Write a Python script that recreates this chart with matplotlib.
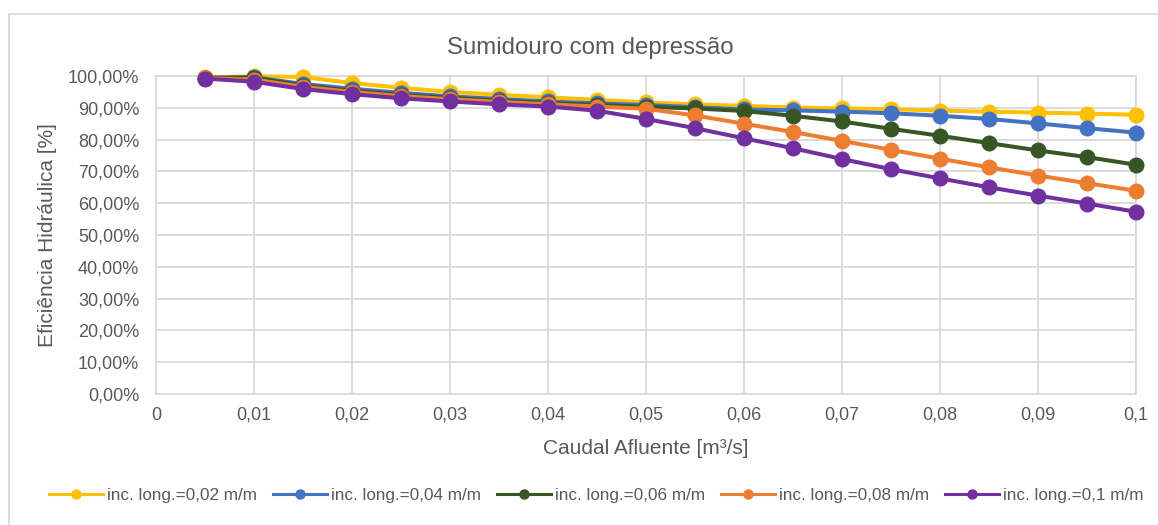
import matplotlib
matplotlib.use("Agg")
import matplotlib.pyplot as plt
from matplotlib.lines import Line2D
from matplotlib.patches import Rectangle

plt.rcParams['font.family'] = ['Liberation Sans', 'DejaVu Sans']

# caudal afluente [m3/s]
caudal = [0.005, 0.01, 0.015, 0.02, 0.025, 0.03, 0.035, 0.04, 0.045, 0.05,
          0.055, 0.06, 0.065, 0.07, 0.075, 0.08, 0.085, 0.09, 0.095, 0.1]

# eficiencia hidraulica [%] para cada inclinacao longitudinal
ef_002 = [99.6, 99.9, 99.7, 97.8, 96.3, 95.0, 94.1, 93.3, 92.5, 91.7,
          91.1, 90.6, 90.1, 89.8, 89.6, 89.1, 88.8, 88.5, 88.2, 87.8]
ef_004 = [99.5, 99.6, 97.5, 96.0, 94.7, 93.6, 92.8, 92.0, 91.4, 90.9,
          90.2, 89.5, 89.2, 88.8, 88.3, 87.5, 86.5, 85.1, 83.6, 82.2]
ef_006 = [99.4, 99.5, 97.0, 95.4, 94.1, 93.1, 92.3, 91.5, 90.9, 90.3,
          89.8, 89.0, 87.5, 85.7, 83.4, 81.2, 78.9, 76.6, 74.5, 72.1]
ef_008 = [99.3, 98.9, 96.6, 95.0, 93.7, 92.7, 91.9, 91.1, 90.4, 89.7,
          87.6, 85.0, 82.4, 79.6, 76.8, 74.0, 71.3, 68.7, 66.3, 63.9]
ef_010 = [99.2, 98.2, 95.9, 94.3, 93.0, 92.0, 91.1, 90.4, 89.1, 86.5,
          83.6, 80.4, 77.3, 73.9, 70.7, 67.8, 65.0, 62.4, 59.9, 57.3]

series_labels = ['inc. long.=0,02 m/m', 'inc. long.=0,04 m/m', 'inc. long.=0,06 m/m',
                 'inc. long.=0,08 m/m', 'inc. long.=0,1 m/m']
colors = ['#FFC000', '#4472C4', '#375623', '#ED7D31', '#7030A0']

x_ticks = [0, 0.01, 0.02, 0.03, 0.04, 0.05, 0.06, 0.07, 0.08, 0.09, 0.1]
x_tick_labels = ['0', '0,01', '0,02', '0,03', '0,04', '0,05', '0,06', '0,07', '0,08', '0,09', '0,1']
y_ticks = [0, 10, 20, 30, 40, 50, 60, 70, 80, 90, 100]
y_tick_labels = ['0,00%', '10,00%', '20,00%', '30,00%', '40,00%', '50,00%',
                 '60,00%', '70,00%', '80,00%', '90,00%', '100,00%']

text_color = '#595959'
grid_color = '#D9D9D9'

fig = plt.figure(figsize=(11.58, 5.25), dpi=100)
ax = fig.add_axes([0.1347, 0.2495, 0.8463, 0.6057])

# moldura do grafico
fig.patches.append(Rectangle((9 / 1158, -0.1), 1.2, 1.1 - 14 / 525, transform=fig.transFigure,
                             fill=False, edgecolor=grid_color, linewidth=1.3))

for y, lab, c in zip([ef_002, ef_004, ef_006, ef_008, ef_010], series_labels, colors):
    ax.plot(caudal, y, color=c, linewidth=2.9, marker='o', markersize=10.5, label=lab,
            solid_capstyle='round', clip_on=False, zorder=3)

ax.set_xlim(0, 0.1)
ax.set_ylim(0, 100)
ax.set_xticks(x_ticks)
ax.set_xticklabels(x_tick_labels)
ax.set_yticks(y_ticks)
ax.set_yticklabels(y_tick_labels)
ax.tick_params(axis='both', length=0, labelsize=13, colors=text_color)
ax.tick_params(axis='y', pad=12)
ax.tick_params(axis='x', pad=9)
ax.grid(True, color=grid_color, linewidth=1.3)
ax.set_axisbelow(True)
for s in ax.spines.values():
    s.set_color(grid_color)
    s.set_linewidth(1.3)

fig.text(0.510, 0.9086, 'Sumidouro com depressão', ha='center', va='center',
         fontsize=17.3, color=text_color)
ax.set_xlabel('Caudal Afluente [m³/s]', fontsize=15, color=text_color, labelpad=11)
ax.set_ylabel('Eficiência Hidráulica [%]', fontsize=15, color=text_color, labelpad=8)

handles = [Line2D([0], [0], color=c, linewidth=2.2, marker='o', markersize=6.5) for c in colors]
fig.legend(handles, series_labels, loc='center', bbox_to_anchor=(0.515, 0.057), ncol=5,
           frameon=False, fontsize=12.3, labelcolor=text_color, handlelength=3.16,
           handletextpad=0.23, columnspacing=0.94, borderpad=0)

fig.savefig('out.png', dpi=100)
